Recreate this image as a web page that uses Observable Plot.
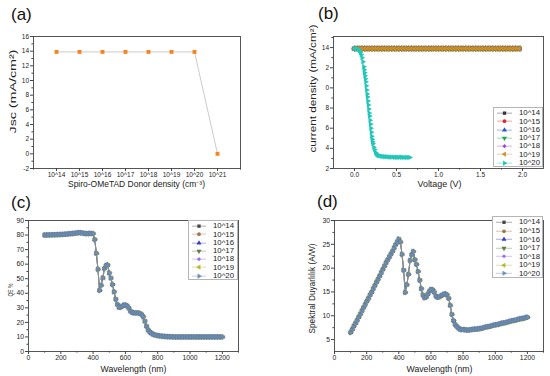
<!DOCTYPE html>
<html><head><meta charset="utf-8">
<script src="https://cdn.jsdelivr.net/npm/d3@7"></script>
<script src="https://cdn.jsdelivr.net/npm/@observablehq/plot@0.6"></script>
<style>
body{margin:0;background:#fff;}
#wrap{position:relative;width:550px;height:376px;overflow:hidden;font-family:"Liberation Sans",Arial,sans-serif;background:#fff;}
.lbl{position:absolute;font-size:17px;line-height:1;color:#111;}
.legend{position:absolute;border:0.8px solid #b5b5b5;background:#fff;box-sizing:border-box;padding:1px 0 0 0;}
.row{display:flex;align-items:center;font-size:7.8px;line-height:1;color:#222;white-space:nowrap;overflow:hidden;}
.row svg{flex:none;}
</style>
</head><body>
<div id="wrap">
  <div class="lbl" style="left:11px;top:6px">(a)</div>
  <div class="lbl" style="left:318px;top:5px">(b)</div>
  <div class="lbl" style="left:11px;top:194px">(c)</div>
  <div class="lbl" style="left:317px;top:193px">(d)</div>
</div>
<script>
// ---------- data ----------
const seriesNames = ["10^14","10^15","10^16","10^17","10^18","10^19","10^20"];

// (a) Jsc vs Spiro-OMeTAD donor density
const donorExponents = [14,15,16,17,18,19,20,21];
const donorLabels = ["10^14","10^15","10^16","10^17","10^18","10^19","10^20","10^21"];
const jscValues = [13.9,13.9,13.9,13.9,13.9,13.9,13.9,0];

// (b) J-V curves
const vSweep = [0,0.04,0.08,0.12,0.16,0.2,0.24,0.28,0.32,0.36,0.4,0.44,0.48,0.52,0.56,0.6,0.64,0.68,0.72,0.76,0.8,0.84,0.88,0.92,0.96,1,1.04,1.08,1.12,1.16,1.2,1.24,1.28,1.32,1.36,1.4,1.44,1.48,1.52,1.56,1.6,1.64,1.68,1.72,1.76,1.8,1.84,1.88,1.92,1.96];
const jFlat = [13.9,13.9,13.9,13.9,13.9,13.9,13.9,13.9,13.9,13.9,13.9,13.9,13.9,13.9,13.9,13.9,13.9,13.9,13.9,13.9,13.9,13.9,13.9,13.9,13.9,13.9,13.9,13.9,13.9,13.9,13.9,13.9,13.9,13.9,13.9,13.9,13.9,13.9,13.9,13.9,13.9,13.9,13.9,13.9,13.9,13.9,13.9,13.9,13.9,13.9];
const v20 = [0,0.02,0.04,0.06,0.07,0.08,0.09,0.1,0.11,0.115,0.12,0.125,0.13,0.135,0.14,0.145,0.15,0.155,0.16,0.165,0.17,0.175,0.18,0.185,0.19,0.195,0.2,0.205,0.21,0.215,0.22,0.23,0.24,0.25,0.26,0.27,0.28,0.29,0.3,0.32,0.34,0.36,0.38,0.4,0.42,0.44,0.46,0.48,0.5,0.52,0.54,0.56,0.58,0.6,0.62,0.64,0.66];
const j20 = [13.9,13.9,13.85,13.7,13.5,13.3,13.0,12.6,12.1,11.8,11.5,11.2,10.9,10.6,10.2,9.8,9.4,9.1,8.7,8.3,7.9,7.5,7.2,6.8,6.4,6.0,5.6,5.2,4.9,4.65,4.45,4.1,3.85,3.6,3.45,3.38,3.32,3.28,3.25,3.21,3.19,3.17,3.16,3.15,3.14,3.13,3.13,3.12,3.12,3.11,3.11,3.11,3.1,3.1,3.1,3.1,3.1];
const jvYTicks = [2,4,6,8,10,12,14];
const jvYTickLabels = ["2","4","6","8","0","2","14"];

// (c) QE and (d) spectral responsivity vs wavelength
const wavelengths = [100,110,120,130,140,150,160,170,180,190,200,210,220,230,240,250,260,270,280,290,300,310,320,330,340,350,360,370,380,390,400,410,420,430,440,450,460,470,480,490,500,510,520,530,540,550,560,570,580,590,600,610,620,630,640,650,660,670,680,690,700,710,720,730,740,750,760,770,780,790,800,810,820,830,840,850,860,870,880,890,900,910,920,930,940,950,960,970,980,990,1000,1010,1020,1030,1040,1050,1060,1070,1080,1090,1100,1110,1120,1130,1140,1150,1160,1170,1180,1190,1200];
const qeValues = [80.0,80.0,80.1,80.1,80.1,80.2,80.2,80.2,80.3,80.3,
80.4,80.4,80.5,80.6,80.7,80.8,80.9,81.0,81.1,81.3,
81.4,81.6,81.6,81.5,81.3,81.1,81.0,81.0,81.1,81.1,
81.0,77.0,67.5,56.5,42.0,45.5,50.5,57.0,59.0,59.5,
54.0,50.5,46.0,41.0,36.0,32.5,30.5,30.3,31.0,31.8,
32.0,31.5,30.0,28.0,27.0,26.6,26.5,26.5,26.5,26.2,
25.5,24.0,21.0,17.5,15.0,13.5,12.8,12.0,11.5,11.2,
11.0,10.8,10.6,10.5,10.4,10.3,10.2,10.2,10.1,10.1,
10.0,10.0,10.0,10.0,10.0,10.0,10.0,10.0,10.0,10.0,
10.0,10.0,10.0,10.0,10.0,10.0,10.0,10.0,10.0,10.0,
10.0,10.0,10.0,10.0,10.0,10.0,10.0,10.0,10.0,10.0,
10.0];
const srValues = [6.5,7.1,7.8,8.4,9.0,9.7,10.3,11.0,11.7,12.3,
13.0,13.6,14.3,14.9,15.6,16.3,17.0,17.6,18.3,19.0,
19.7,20.4,21.1,21.7,22.3,22.9,23.5,24.2,24.9,25.5,
26.1,25.5,22.9,19.6,14.9,16.5,18.7,21.6,22.8,23.5,
21.8,20.8,19.3,17.5,15.7,14.4,13.8,13.9,14.5,15.1,
15.5,15.5,15.0,14.2,13.9,13.9,14.1,14.3,14.5,14.6,
14.4,13.7,12.2,10.3,9.0,8.2,7.8,7.5,7.2,7.1,
7.1,7.1,7.0,7.0,7.0,7.1,7.1,7.2,7.2,7.2,
7.3,7.3,7.4,7.5,7.6,7.7,7.7,7.8,7.9,8.0,
8.1,8.1,8.2,8.3,8.4,8.5,8.5,8.6,8.7,8.8,
8.9,9.0,9.0,9.1,9.2,9.3,9.4,9.4,9.5,9.6,
9.7];

// ---------- styles ----------
const jvColors = ["#333333","#e8262e","#2a56c6","#1fa34f","#a247d8","#cf9429","#22c6b8"];
const qeColors = ["#454545","#a0784a","#3b3bc8","#5e7a45","#9a6fe8","#b8b832","#6d8fb5"];
const plotSymbols = ["square","circle","triangle","triangle","diamond2","triangle","triangle"];
const d3Symbols = [d3.symbolSquare,d3.symbolCircle,d3.symbolTriangle,d3.symbolTriangle,d3.symbolDiamond2,d3.symbolTriangle,d3.symbolTriangle];
const rotations = [0,0,0,180,0,270,90];

const wrap = document.getElementById("wrap");
const FONT = "'Liberation Sans', Arial, sans-serif";
const AX = "#444";

function place(chart, left, top, fits) {
  chart.style.position = "absolute";
  chart.style.left = left + "px";
  chart.style.top = top + "px";
  wrap.appendChild(chart);
  (fits || []).forEach(([str, len]) => {
    d3.select(chart).selectAll("text").filter(function () { return this.textContent === str; })
      .attr("textLength", len).attr("lengthAdjust", "spacingAndGlyphs");
  });
}
// axis titles are start-anchored; (xDx, xDy) and (yDx, yDy) place the start of each title
function axes({xt, xm, xf, yt, ym, yf, fs, xTitle, yTitle, xDx, xDy, yDx, yDy, xFs, yFs}) {
  return [
    Plot.axisX({ticks: xt, tickFormat: xf, tickSize: 3, tickPadding: 1, fontSize: fs, label: null, stroke: AX, fill: "#222"}),
    Plot.axisX({ticks: xm, tickFormat: () => "", tickSize: 1.6, label: null, stroke: AX}),
    Plot.axisY({ticks: yt, tickFormat: yf, tickSize: 3, tickPadding: 1.5, fontSize: fs, label: null, stroke: AX, fill: "#222"}),
    Plot.axisY({ticks: ym, tickFormat: () => "", tickSize: 1.6, label: null, stroke: AX}),
    Plot.frame({stroke: AX, strokeWidth: 0.9}),
    Plot.text([xTitle], {text: d => d, frameAnchor: "bottom", dx: xDx, dy: xDy, textAnchor: "start", fontSize: xFs, fill: "#222", lineAnchor: "middle"}),
    Plot.text([yTitle], {text: d => d, frameAnchor: "left", dx: yDx, dy: yDy, rotate: -90, textAnchor: "start", fontSize: yFs, fill: "#222", lineAnchor: "middle"})
  ];
}
function legend(left, top, width, height, colors, textLeft) {
  const div = d3.select(wrap).append("div").attr("class", "legend")
    .style("left", left + "px").style("top", top + "px")
    .style("width", width + "px").style("height", height + "px");
  const rh = (height - 2) / seriesNames.length;
  seriesNames.forEach((s, i) => {
    const row = div.append("div").attr("class", "row").style("height", rh + "px");
    const svg = row.append("svg").attr("width", textLeft).attr("height", rh);
    svg.append("line").attr("x1", 3).attr("x2", textLeft - 7).attr("y1", rh / 2).attr("y2", rh / 2)
      .attr("stroke", colors[i]).attr("stroke-width", 0.6).attr("stroke-opacity", 0.7);
    svg.append("path").attr("d", d3.symbol(d3Symbols[i], 11)())
      .attr("transform", `translate(${(textLeft - 4) / 2},${rh / 2}) rotate(${rotations[i]})`)
      .attr("fill", colors[i]);
    row.append("span").text(s);
  });
}
const baseStyle = {fontFamily: FONT, fontSize: "6px", color: "#333", background: "transparent", overflow: "visible"};

// ---------- (a) ----------
const dataA = donorExponents.map((e, i) => ({e, j: jscValues[i]}));
const titleA = "Spiro-OMeTAD Donor density (cm⁻³)";
const yTitleA = "Jsc (mA/cm²)";
place(Plot.plot({
  width: 275, height: 188, marginLeft: 33, marginRight: 35, marginTop: 36, marginBottom: 20,
  style: baseStyle,
  x: {type: "linear", domain: [13, 22]},
  y: {domain: [-2, 16]},
  marks: [
    ...axes({xt: donorExponents, xm: [13, 22], xf: (d) => donorLabels[donorExponents.indexOf(d)],
      yt: [-2,0,2,4,6,8,10,12,14,16], ym: [-1,1,3,5,7,9,11,13,15], yf: d => String(d),
      fs: 6.5, xTitle: titleA, yTitle: yTitleA, xDx: -69, xDy: 16, yDx: -20, yDy: 31, xFs: 8.2, yFs: 9}),
    Plot.line(dataA, {x: "e", y: "j", stroke: "#bdbdbd", strokeWidth: 0.8}),
    Plot.dot(dataA, {x: "e", y: "j", symbol: "square", r: 2.2, fill: "#f5841f"})
  ]
}), 0, 0, [[titleA, 137], [yTitleA, 84]]);

// ---------- (b) ----------
const flatRows = vSweep.map((v, i) => ({v, j: jFlat[i]}));
const rows20 = v20.map((v, i) => ({v, j: j20[i]}));
const jvMarks = [];
seriesNames.forEach((s, i) => {
  const d = i < 6 ? flatRows : rows20;
  jvMarks.push(Plot.line(d, {x: "v", y: "j", stroke: jvColors[i], strokeWidth: 0.6}));
  jvMarks.push(Plot.dot(d, {x: "v", y: "j", symbol: plotSymbols[i], rotate: rotations[i], r: i < 6 ? 2.3 : 2.0, fill: jvColors[i],
    stroke: i === 5 ? "#a8741c" : "none", strokeWidth: 0.4}));
});
const yTitleB = "current density (mA/cm²)";
place(Plot.plot({
  width: 275, height: 188, marginLeft: 58, marginRight: 7, marginTop: 36, marginBottom: 20,
  style: baseStyle,
  x: {domain: [-0.25, 2.25]},
  y: {domain: [2, 15.1]},
  marks: [
    ...axes({xt: [0, 0.5, 1, 1.5, 2], xm: [0.25, 0.75, 1.25, 1.75], xf: d3.format(".1f"),
      yt: jvYTicks, ym: [3,5,7,9,11,13,15], yf: d => jvYTickLabels[jvYTicks.indexOf(d)],
      fs: 6.5, xTitle: "Voltage (V)", yTitle: yTitleB, xDx: -21, xDy: 16, yDx: -20, yDy: 50, xFs: 8.5, yFs: 8.5}),
    ...jvMarks
  ]
}), 275, 0, [["Voltage (V)", 44], [yTitleB, 128]]);
legend(493, 107, 50, 60, jvColors, 25);

// ---------- (c) & (d) ----------
function spectralMarks(values) {
  const rows = wavelengths.map((w, i) => ({w, v: values[i]}));
  const m = [];
  seriesNames.forEach((s, i) => {
    m.push(Plot.line(rows, {x: "w", y: "v", stroke: qeColors[i], strokeWidth: 0.6, strokeOpacity: 0.8}));
    m.push(Plot.dot(rows, {x: "w", y: "v", symbol: plotSymbols[i], rotate: rotations[i], r: 1.95, fill: qeColors[i],
      stroke: i === 6 ? "#557597" : "none", strokeWidth: 0.4}));
  });
  return m;
}
const wlTicks = [0,200,400,600,800,1000,1200];
const wlMinor = [100,300,500,700,900,1100,1300];
place(Plot.plot({
  width: 275, height: 188, marginLeft: 28, marginRight: 37, marginTop: 32, marginBottom: 25,
  style: baseStyle,
  x: {domain: [0, 1300]},
  y: {domain: [0, 90]},
  marks: [
    ...axes({xt: wlTicks, xm: wlMinor, xf: d => String(d),
      yt: [0,10,20,30,40,50,60,70,80,90], ym: [5,15,25,35,45,55,65,75,85], yf: d => String(d),
      fs: 6.8, xTitle: "Wavelength (nm)", yTitle: "QE %", xDx: -33, xDy: 18, yDx: -18, yDy: 10.5, xFs: 8.5, yFs: 6.8}),
    ...spectralMarks(qeValues)
  ]
}), 0, 188, [["Wavelength (nm)", 66], ["QE %", 13]]);
legend(188, 220, 50, 60, qeColors, 24);

const yTitleD = "Spektral Duyarlılık (A/W)";
place(Plot.plot({
  width: 275, height: 188, marginLeft: 59, marginRight: 7, marginTop: 32, marginBottom: 25,
  style: baseStyle,
  x: {domain: [0, 1300]},
  y: {domain: [2.5, 30]},
  marks: [
    ...axes({xt: wlTicks, xm: wlMinor, xf: d => String(d),
      yt: [5,10,15,20,25,30], ym: [7.5,12.5,17.5,22.5,27.5], yf: d => String(d),
      fs: 6.8, xTitle: "Wavelength (nm)", yTitle: yTitleD, xDx: -32.5, xDy: 18, yDx: -22, yDy: 47.5, xFs: 8.5, yFs: 8.2}),
    ...spectralMarks(srValues)
  ]
}), 275, 188, [["Wavelength (nm)", 66], [yTitleD, 90]]);
legend(492, 216, 51, 62, qeColors, 26);
</script>
</body></html>
